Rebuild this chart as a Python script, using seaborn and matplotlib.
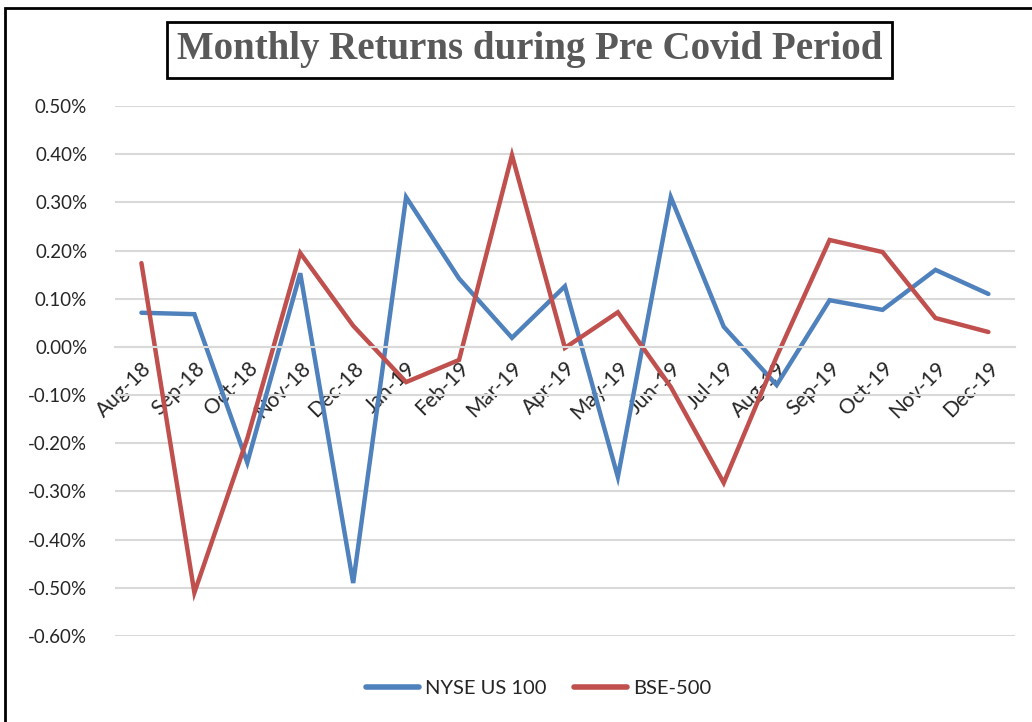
import matplotlib
matplotlib.use("Agg")
import matplotlib.pyplot as plt
from matplotlib.patches import Rectangle
from matplotlib.lines import Line2D
from matplotlib.ticker import FuncFormatter, FixedLocator
import pandas as pd
import seaborn as sns

months = ["Aug-18", "Sep-18", "Oct-18", "Nov-18", "Dec-18", "Jan-19", "Feb-19",
          "Mar-19", "Apr-19", "May-19", "Jun-19", "Jul-19", "Aug-19", "Sep-19",
          "Oct-19", "Nov-19", "Dec-19"]
# monthly returns in percent
nyse = [0.071, 0.068, -0.240, 0.153, -0.490, 0.311, 0.142, 0.019, 0.126, -0.270,
        0.311, 0.042, -0.079, 0.097, 0.077, 0.160, 0.110]
bse = [0.174, -0.510, -0.190, 0.195, 0.044, -0.073, -0.027, 0.398, -0.002, 0.072,
       -0.083, -0.282, -0.020, 0.222, 0.197, 0.060, 0.031]
series_names = ["NYSE US 100", "BSE-500"]
colors = {"NYSE US 100": "#4F81BD", "BSE-500": "#C0504D"}

df = pd.DataFrame({
    "pos": list(range(len(months))) * 2,
    "ret": nyse + bse,
    "series": [series_names[0]] * len(months) + [series_names[1]] * len(months),
})

sns.set_style("white")
plt.rcParams["font.family"] = ["Lato", "DejaVu Sans"]

fig = plt.figure(figsize=(10.32, 7.22), dpi=100)
ax = fig.add_axes([0.1114, 0.1191, 0.872, 0.734])

sns.lineplot(data=df, x="pos", y="ret", hue="series", palette=colors,
             hue_order=series_names, linewidth=3.2, legend=False, ax=ax,
             solid_capstyle="round", solid_joinstyle="miter")

# axis line sits at zero; set before tick styling since it resets ticks
for side in ["top", "right", "left"]:
    ax.spines[side].set_visible(False)
ax.spines["bottom"].set_position(("data", 0))
ax.spines["bottom"].set_color("#D9D9D9")
ax.spines["bottom"].set_linewidth(1.5)

ax.set_xlim(-0.5, len(months) - 0.5)
ax.set_ylim(-0.6, 0.5)
ax.set_yticks([i / 10 for i in range(-6, 6)])
ax.yaxis.set_major_formatter(FuncFormatter(lambda v, p: f"{v:.2f}%"))
ax.yaxis.grid(True, color="#D9D9D9", linewidth=1.5)
ax.set_axisbelow(True)
ax.tick_params(axis="y", length=0, pad=20, labelsize=13.5)

ax.set_xticks(range(len(months)))
ax.set_xticklabels(months)
ax.xaxis.set_minor_locator(FixedLocator([i - 0.5 for i in range(len(months) + 1)]))
ax.tick_params(axis="x", which="major", length=0, pad=8, labelsize=15)
ax.tick_params(axis="x", which="minor", length=6, width=1.2, color="#D9D9D9", direction="out")
for lbl in ax.get_xticklabels():
    lbl.set_rotation(45)
    lbl.set_ha("right")
    lbl.set_rotation_mode("anchor")
ax.set_xlabel("")
ax.set_ylabel("")

handles = [Line2D([0], [0], color=colors[s], lw=4, solid_capstyle="round") for s in series_names]
fig.legend(handles, series_names, loc="center", bbox_to_anchor=(0.522, 0.047), ncol=2,
           frameon=False, fontsize=14.5, handlelength=2.6, columnspacing=1.4, handletextpad=0.3)

fig.text(0.513, 0.931, "Monthly Returns during Pre Covid Period", ha="center", va="center",
         fontsize=28, fontweight="bold", color="#595959", family="Liberation Serif",
         bbox=dict(boxstyle="square,pad=0.25", facecolor="white", edgecolor="black", linewidth=2))

fig.patches.append(Rectangle((0.005, -0.1), 1.2, 1.089, transform=fig.transFigure,
                             fill=False, edgecolor="black", linewidth=2))

fig.savefig("out.png", dpi=100)
